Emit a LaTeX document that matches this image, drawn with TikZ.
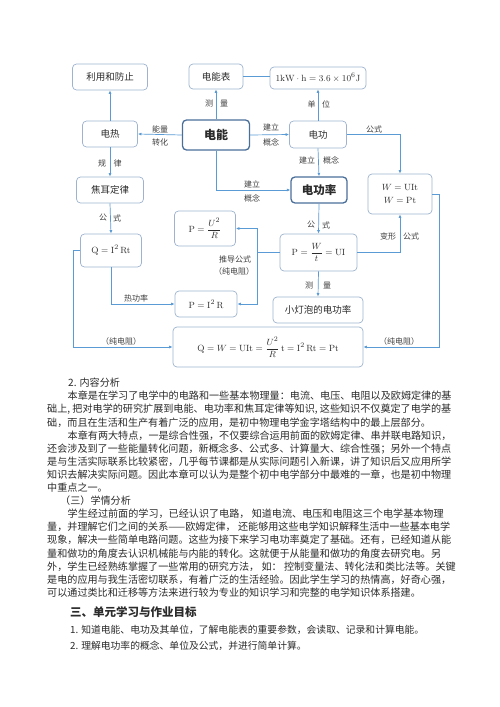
\documentclass[tikz,border=0pt]{standalone}
\usepackage{amsmath}
\usepackage[no-math]{fontspec}
\setmainfont{Noto Sans CJK SC}
\usetikzlibrary{arrows.meta}
\definecolor{lnc}{HTML}{5B9BD5}
\definecolor{bx}{HTML}{9DB3CF}
\definecolor{bxd}{HTML}{4A709A}
\definecolor{tx}{HTML}{2B2B2B}
\definecolor{lb}{HTML}{404040}
\tikzset{
  bbox/.style={draw=bx, line width=0.7pt, rounded corners=4pt, fill=white, inner sep=1pt, text=tx, font=\fontsize{9.5}{11}\selectfont, align=center},
  hbox/.style={bbox, draw=bxd, line width=1.3pt, font=\fontsize{12}{14}\selectfont\bfseries},
  arr/.style={draw=lnc, line width=0.7pt, -{Latex[length=3.5pt,width=3pt]}},
  cline/.style={draw=lnc, line width=0.7pt},
  lbl/.style={text=lb, font=\fontsize{8}{9}\selectfont, inner sep=0pt},
  body/.style={anchor=west, inner sep=0pt, text=tx, font=\fontsize{10.1}{12}\selectfont},
}
\begin{document}
\begin{tikzpicture}[x=1pt,y=-1pt]
\useasboundingbox (0,0) rectangle (500,707);
\fill[white] (0,0) rectangle (500,707);
% boxes
\node[bbox, minimum width=75, minimum height=26] (lyfz) at (110,77) {利用和防止};
\node[bbox, minimum width=54, minimum height=25] (dnb) at (216,76.5) {电能表};
\node[bbox, minimum width=96, minimum height=22] (kwh) at (318,78) {$1\mathrm{kW\cdot h}=3.6\times10^{6}\mathrm{J}$};
\node[bbox, minimum width=55, minimum height=26] (dr) at (110,134) {电热};
\node[hbox, minimum width=67, minimum height=30] (dn) at (216,135) {电能};
\node[bbox, minimum width=57, minimum height=27] (dg) at (318,134.5) {电功};
\node[bbox, minimum width=67, minimum height=26] (je) at (110,190) {焦耳定律};
\node[hbox, minimum width=56, minimum height=26, font=\fontsize{11.5}{13}\selectfont\bfseries] (dgl) at (319,190) {电功率};
\node[bbox, minimum width=64, minimum height=40] (wb) at (400,194) {$W=\mathrm{UIt}$\\[2pt]$W=\mathrm{Pt}$};
\node[bbox, minimum width=61, minimum height=35] (pu) at (205,228.5) {$\mathrm{P}=\dfrac{U^2}{R}$};
\node[bbox, minimum width=61, minimum height=33] (q) at (111,250.5) {$\mathrm{Q}=\mathrm{I^2\,Rt}$};
\node[bbox, minimum width=77, minimum height=37] (pw) at (318.5,252.5) {$\mathrm{P}=\dfrac{W}{t}=\mathrm{UI}$};
\node[bbox, minimum width=62, minimum height=26] (pi) at (206,304) {$\mathrm{P}=\mathrm{I^2\,R}$};
\node[bbox, minimum width=90, minimum height=26] (xd) at (318,310) {小灯泡的电功率};
\node[bbox, minimum width=190, minimum height=40] (qb) at (268,347) {$\mathrm{Q}=W=\mathrm{UIt}=\dfrac{U^2}{R}\,\mathrm{t}=\mathrm{I^2\,Rt}=\mathrm{Pt}$};
% junction coordinates
\coordinate (j1) at (257,252.5);
\coordinate (c1) at (73,250.5);
\coordinate (c2) at (439,194);
% connectors
\draw[arr] (dr.north) -- (lyfz.south);
\draw[arr] (dn.west) -- (dr.east);
\draw[arr] (dn.north) -- (dnb.south);
\draw[cline] (dnb.east) -- (dnb.east -| kwh.west);
\draw[arr] (dn.east) -- (dg.west);
\draw[arr] (dg.north) -- (kwh.south);
\draw[arr] (dg.east) -| (wb.north);
\draw[arr] (dg.south) -- (dgl.north);
\draw[arr] (dn.south) |- (dgl.west);
\draw[arr] (dgl.south) -- (pw.north);
\draw[arr] (pw.east) -| (wb.south);
\draw[cline] (pw.west) -- (j1);
\draw[arr] (j1) |- (pu.east);
\draw[arr] (j1) |- (pi.east);
\draw[arr] (dr.south) -- (je.north);
\draw[arr] (je.south) -- (q.north);
\draw[arr] (q.west) -- (c1) |- (qb.west);
\draw[arr] (q.south) |- (pi.west);
\draw[arr] (pw.south) -- (xd.north);
\draw[arr] (wb.east) -- (c2) |- (qb.east);
% labels
\node[lbl] (l1) at (160,129) {能量};
\node[lbl] (l2) at (160,142) {转化};
\node[lbl] (l3) at (209,103) {测};
\node[lbl] (l4) at (224,103) {量};
\node[lbl] (l5) at (311.5,104) {单};
\node[lbl] (l6) at (326,104) {位};
\node[lbl] (l7) at (102,163) {规};
\node[lbl] (l8) at (117.5,163) {律};
\node[lbl] (l9) at (374,129) {公式};
\node[lbl] (l10) at (271,127) {建立};
\node[lbl] (l11) at (271,142) {概念};
\node[lbl] (l12) at (307,160) {建立};
\node[lbl] (l13) at (331,160) {概念};
\node[lbl] (l14) at (252,184) {建立};
\node[lbl] (l15) at (252,198) {概念};
\node[lbl] (l16) at (311,225) {公};
\node[lbl] (l17) at (326,225) {式};
\node[lbl] (l18) at (388,236) {变形};
\node[lbl] (l19) at (411,236) {公式};
\node[lbl] (l20) at (235,259) {推导公式};
\node[lbl] (l21) at (234,271) {（纯电阻）};
\node[lbl] (l22) at (103,218) {公};
\node[lbl] (l23) at (117,218) {式};
\node[lbl] (l24) at (136,298) {热功率};
\node[lbl] (l25) at (121,341) {（纯电阻）};
\node[lbl] (l26) at (399,341) {（纯电阻）};
\node[lbl] (l27) at (309,285) {测};
\node[lbl] (l28) at (327,285) {量};
% body text
\node[body] (t0) at (68,383) {2. 内容分析};
\node[body] (t1) at (67.5,396.1) {本章是在学习了电学中的电路和一些基本物理量：电流、电压、电阻以及欧姆定律的基};
\node[body] (t2) at (47,409.2) {础上, 把对电学的研究扩展到电能、电功率和焦耳定律等知识, 这些知识不仅奠定了电学的基};
\node[body] (t3) at (47,422.3) {础，而且在生活和生产有着广泛的应用，是初中物理电学金字塔结构中的最上层部分。};
\node[body] (t4) at (67.5,435.4) {本章有两大特点，一是综合性强，不仅要综合运用前面的欧姆定律、串并联电路知识，};
\node[body] (t5) at (47,448.5) {还会涉及到了一些能量转化问题，新概念多、公式多、计算量大、综合性强；另外一个特点};
\node[body] (t6) at (47,461.6) {是与生活实际联系比较紧密，几乎每节课都是从实际问题引入新课，讲了知识后又应用所学};
\node[body] (t7) at (47,474.7) {知识去解决实际问题。因此本章可以认为是整个初中电学部分中最难的一章，也是初中物理};
\node[body] (t8) at (47,487.8) {中重点之一。};
\node[body] (t9) at (60,500.9) {（三）学情分析};
\node[body] (t10) at (67.5,514.0) {学生经过前面的学习，已经认识了电路， 知道电流、电压和电阻这三个电学基本物理};
\node[body] (t11) at (47,527.1) {量，并理解它们之间的关系——欧姆定律， 还能够用这些电学知识解释生活中一些基本电学};
\node[body] (t12) at (47,540.2) {现象，解决一些简单电路问题。这些为接下来学习电功率奠定了基础。还有，已经知道从能};
\node[body] (t13) at (47,553.3) {量和做功的角度去认识机械能与内能的转化。这就便于从能量和做功的角度去研究电。另};
\node[body] (t14) at (47,566.4) {外，学生已经熟练掌握了一些常用的研究方法， 如： 控制变量法、转化法和类比法等。关键};
\node[body] (t15) at (47,579.5) {是电的应用与我生活密切联系，有着广泛的生活经验。因此学生学习的热情高，好奇心强，};
\node[body] (t16) at (47,592.6) {可以通过类比和迁移等方法来进行较为专业的知识学习和完整的电学知识体系搭建。};
\node[body, font=\fontsize{11.5}{13}\selectfont\bfseries] (h3) at (70,612) {三、单元学习与作业目标};
\node[body, font=\fontsize{9.8}{12}\selectfont] (i1) at (70,630) {1. 知道电能、电功及其单位，了解电能表的重要参数，会读取、记录和计算电能。};
\node[body, font=\fontsize{9.8}{12}\selectfont] (i2) at (70,646) {2. 理解电功率的概念、单位及公式，并进行简单计算。};
\end{tikzpicture}
\end{document}
